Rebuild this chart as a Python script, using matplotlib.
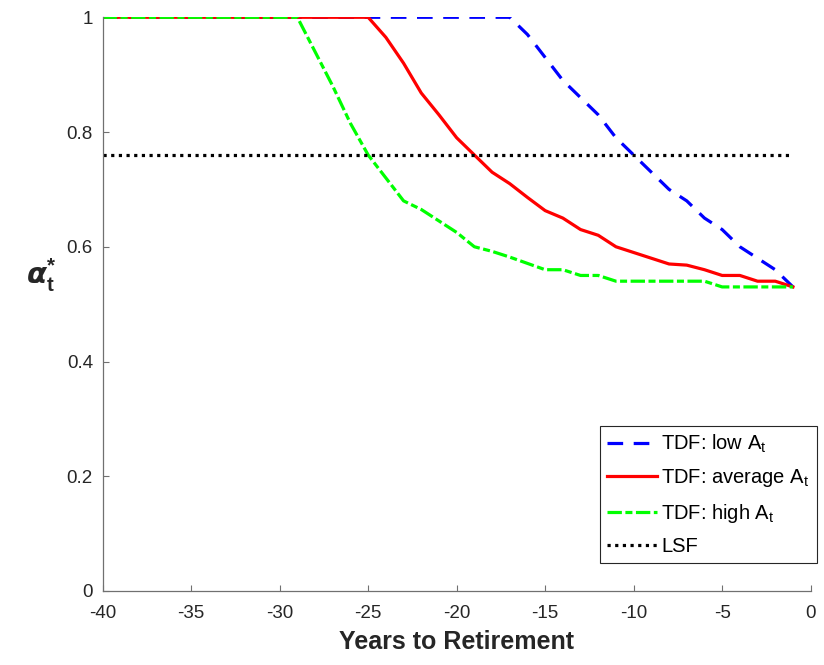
import matplotlib
matplotlib.use('Agg')
import matplotlib.pyplot as plt
import numpy as np

plt.rcParams['font.family'] = ['Liberation Sans', 'DejaVu Sans']
plt.rcParams['mathtext.fontset'] = 'custom'
plt.rcParams['mathtext.rm'] = 'Liberation Sans'
plt.rcParams['mathtext.bf'] = 'Liberation Sans:bold'
plt.rcParams['axes.unicode_minus'] = False

# years to retirement
years = np.arange(-40, 0)

# TDF: low A_t (flat at 1 until -17)
low_tail = [1.0, 0.97, 0.93, 0.89, 0.86, 0.83, 0.79, 0.76, 0.73, 0.70,
            0.68, 0.65, 0.63, 0.60, 0.58, 0.56, 0.53]
low_at = [1.0] * (40 - len(low_tail)) + low_tail

# TDF: average A_t (flat at 1 until -25)
avg_tail = [1.0, 0.965, 0.92, 0.868, 0.83, 0.79, 0.76, 0.73, 0.71, 0.686,
            0.663, 0.65, 0.63, 0.62, 0.60, 0.59, 0.58, 0.57, 0.568, 0.56,
            0.55, 0.55, 0.54, 0.54, 0.53]
avg_at = [1.0] * (40 - len(avg_tail)) + avg_tail

# TDF: high A_t (flat at 1 until -29)
high_tail = [1.0, 0.94, 0.88, 0.815, 0.76, 0.72, 0.68, 0.665, 0.645, 0.625,
             0.60, 0.592, 0.582, 0.571, 0.56, 0.56, 0.55, 0.55, 0.54, 0.54,
             0.54, 0.54, 0.54, 0.54, 0.53, 0.53, 0.53, 0.53, 0.53]
high_at = [1.0] * (40 - len(high_tail)) + high_tail

# LSF constant share
lsf = [0.76] * 40

txt = '#262626'
fig = plt.figure(figsize=(8.24, 6.65), dpi=100)
ax = fig.add_axes([0.1246, 0.1113, 0.8592, 0.8627])

ax.plot(years, low_at, color='#0000ff', lw=2.3, linestyle=(0, (4.9, 3.3)),
        label=r'TDF: low $\mathrm{A}_\mathrm{t}$')
ax.plot(years, avg_at, color='#ff0000', lw=2.3, linestyle='-',
        label=r'TDF: average $\mathrm{A}_\mathrm{t}$')
ax.plot(years, high_at, color='#00ff00', lw=2.3, linestyle=(0, (4.5, 1.1, 2.2, 1.1)),
        label=r'TDF: high $\mathrm{A}_\mathrm{t}$')
ax.plot(years, lsf, color='black', lw=2.3, linestyle=(0, (1, 1.4)), label='LSF')

ax.set_xlim(-40, 0)
ax.set_ylim(0, 1)
ax.set_xticks(np.arange(-40, 1, 5))
ax.set_yticks([0, 0.2, 0.4, 0.6, 0.8, 1])
ax.set_yticklabels(['0', '0.2', '0.4', '0.6', '0.8', '1'])

for s in ['top', 'right']:
    ax.spines[s].set_visible(False)
for s in ['left', 'bottom']:
    ax.spines[s].set_color('#707070')
    ax.spines[s].set_linewidth(0.9)
ax.tick_params(direction='in', length=4, width=0.8, color='#707070',
               labelsize=13.5, labelcolor=txt)
ax.tick_params(axis='x', pad=10)
ax.tick_params(axis='y', pad=7)

ax.set_xlabel('Years to Retirement', fontsize=18, fontweight='bold', color=txt, labelpad=6)
ax.set_ylabel(r'$\boldsymbol{\alpha}_{\mathbf{t}}^{\mathbf{*}}$', fontsize=21, rotation=0,
              color=txt, va='center', ha='center')
ax.yaxis.set_label_coords(-0.087, 0.55)

leg = ax.legend(loc='lower right', bbox_to_anchor=(1.0085, 0.048), fontsize=14.5,
                frameon=True, fancybox=False, framealpha=1, edgecolor='#262626',
                handlelength=2.5, handletextpad=0.2, labelspacing=0.62,
                borderpad=0.35, borderaxespad=0)
leg.get_frame().set_linewidth(0.8)
for t in leg.get_texts():
    t.set_color('black')

fig.savefig('out.png', dpi=100)
